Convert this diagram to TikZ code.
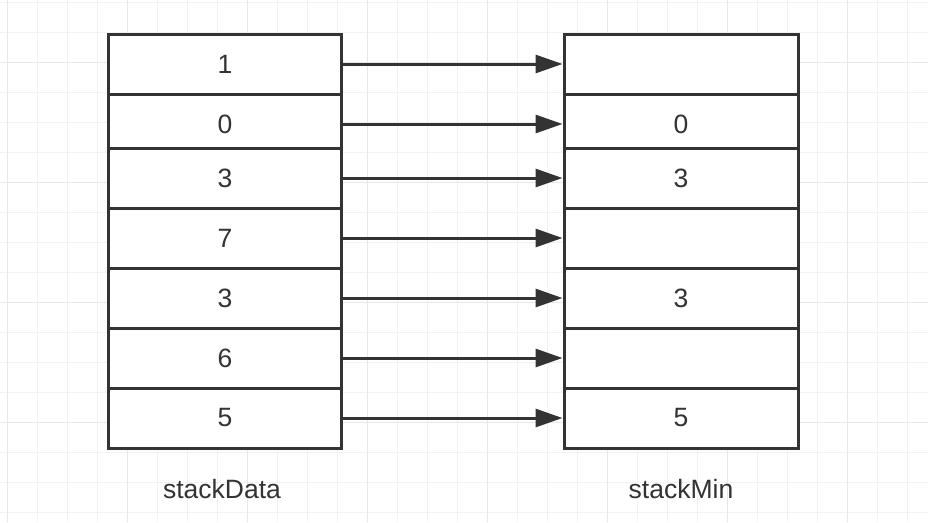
\documentclass[tikz,border=0pt]{standalone}
\usepackage{fontspec}
\setmainfont{Liberation Sans}
\usetikzlibrary{arrows.meta}
\definecolor{ink}{HTML}{333333}
\definecolor{gridminor}{HTML}{F2F2F2}
\definecolor{gridmajor}{HTML}{E8E8E8}
\begin{document}
\begin{tikzpicture}[x=1pt,y=-1pt,
  cell/.style={draw=ink, fill=white, line width=3pt, minimum width=233pt,
    minimum height=60pt, inner sep=0pt, text=ink,
    font=\fontsize{26.5}{30}\selectfont},
  link/.style={draw=ink, line width=3pt, -{Triangle[length=27pt,width=18pt]}},
  caption/.style={text=ink, inner sep=0pt, font=\fontsize{26.5}{30}\selectfont},
  minor/.style={draw=gridminor, line width=1pt},
  major/.style={draw=gridmajor, line width=1pt}]
\useasboundingbox (0,0) rectangle (928,522);
\fill[white] (0,0) rectangle (928,522);
% grid
\foreach \k in {0,...,30} {
  \draw[minor] (7+30*\k,0) -- (7+30*\k,522);
}
\foreach \k in {0,...,17} {
  \draw[minor] (0,2+30*\k) -- (928,2+30*\k);
}
\foreach \k in {0,...,7} {
  \draw[major] (7+120*\k,0) -- (7+120*\k,522);
}
\foreach \k in {0,...,3} {
  \draw[major] (0,62+120*\k) -- (928,62+120*\k);
}
% left stack
\node[cell] (l1) at (225,64) {1};
\node[cell] (l2) at (225,124) {0};
\node[cell] (l3) at (225,178) {3};
\node[cell] (l4) at (225,238) {7};
\node[cell] (l5) at (225,298) {3};
\node[cell] (l6) at (225,358) {6};
\node[cell] (l7) at (225,418) {5};
% right stack
\node[cell, minimum width=234pt] (r1) at (681,64) {};
\node[cell, minimum width=234pt] (r2) at (681,124) {0};
\node[cell, minimum width=234pt] (r3) at (681,178) {3};
\node[cell, minimum width=234pt] (r4) at (681,238) {};
\node[cell, minimum width=234pt] (r5) at (681,298) {3};
\node[cell, minimum width=234pt] (r6) at (681,358) {};
\node[cell, minimum width=234pt] (r7) at (681,418) {5};
% arrows
\foreach \i in {1,...,7} {
  \draw[link] (l\i.east) -- (r\i.west);
}
% captions
\node[caption] (capL) at (222,489) {stackData};
\node[caption] (capR) at (681,489) {stackMin};
\end{tikzpicture}
\end{document}
